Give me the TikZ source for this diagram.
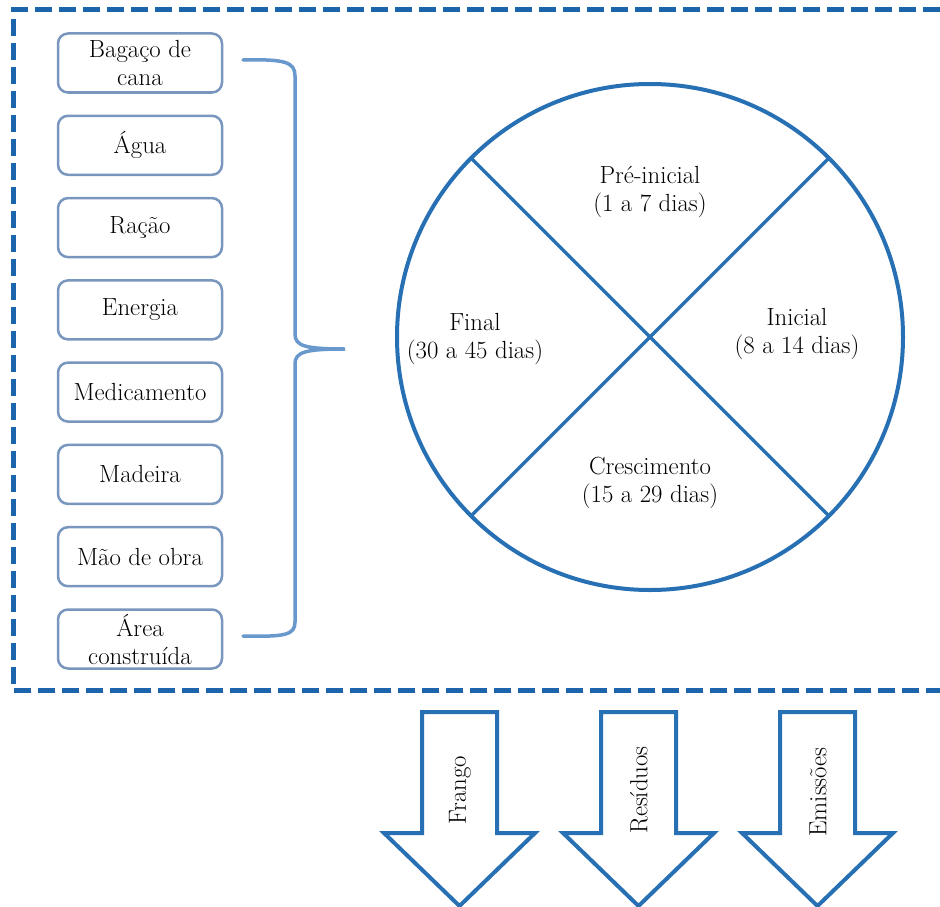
\documentclass[tikz,border=0pt]{standalone}
\usepackage{fontspec}
\definecolor{framec}{RGB}{28,100,172}
\definecolor{circc}{RGB}{40,112,180}
\definecolor{boxc}{RGB}{120,150,190}
\definecolor{bracec}{RGB}{105,152,205}
\begin{document}
\begin{tikzpicture}[x=1pt,y=-1pt,
  txt/.style={font=\rmfamily\fontsize{24.8}{28}\selectfont, align=center, text=black},
  inbox/.style={txt, draw=boxc, line width=2.5pt, rounded corners=10pt,
     minimum width=164pt, minimum height=59pt, inner sep=0pt, fill=white},
  framel/.style={draw=framec, line width=5pt, dash pattern=on 17pt off 7pt},
  bracel/.style={draw=bracec, line width=3.5pt, line cap=round},
  cyc/.style={circle, draw=circc, line width=4pt, minimum size=506pt, inner sep=0pt, outer sep=0pt},
  divl/.style={draw=circc, line width=3.5pt},
  outarrow/.style={draw=circc, line width=4pt, fill=white, line join=miter},
  rtxt/.style={txt, rotate=90}
]
\useasboundingbox (0,0) rectangle (940,907);
\fill[white] (0,0) rectangle (940,907);
% dashed frame
\draw[framel] (940,10) -- (13,10) -- (13,690) -- (940,690);
% input boxes
\node[inbox] (b1) at (140,63) {Bagaço de\\cana};
\node[inbox] (b2) at (140,145.3) {Água};
\node[inbox] (b3) at (140,227.6) {Ração};
\node[inbox] (b4) at (140,309.9) {Energia};
\node[inbox] (b5) at (140,392.1) {Medicamento};
\node[inbox] (b6) at (140,474.4) {Madeira};
\node[inbox] (b7) at (140,556.7) {Mão de obra};
\node[inbox] (b8) at (140,639) {Área\\construída};
% brace
\coordinate (bt) at (243,60);
\coordinate (bb) at (243,636);
\coordinate (btip) at (345,349);
\draw[bracel] (bt) .. controls (285,59) and (295,62) .. (295,76) -- (295,334)
  .. controls (295,346) and (305,349) .. (btip)
  .. controls (305,349) and (295,352) .. (295,364) -- (295,622)
  .. controls (295,635) and (285,637) .. (bb);
% cycle
\node[cyc] (c) at (650,337) {};
\draw[divl] (c.135) -- (c.-45);
\draw[divl] (c.45) -- (c.-135);
\node[txt] (p1) at (650,192) {Pré-inicial\\(1 a 7 dias)};
\node[txt] (p2) at (797,334) {Inicial\\(8 a 14 dias)};
\node[txt] (p3) at (650,483) {Crescimento\\(15 a 29 dias)};
\node[txt] (p4) at (475,339) {Final\\(30 a 45 dias)};
% output arrows
\draw[outarrow] (422,712) -- (497,712) -- (497,833) -- (535,833) -- (459.5,906) -- (384,833) -- (422,833) -- cycle;
\draw[outarrow] (601,712) -- (676,712) -- (676,833) -- (714,833) -- (638.5,906) -- (563,833) -- (601,833) -- cycle;
\draw[outarrow] (780,712) -- (855,712) -- (855,833) -- (893,833) -- (817.5,906) -- (742,833) -- (780,833) -- cycle;
\node[rtxt] (o1) at (460,790) {Frango};
\node[rtxt] (o2) at (639,790) {Resíduos};
\node[rtxt] (o3) at (818,792) {Emissões};
\end{tikzpicture}
\end{document}
